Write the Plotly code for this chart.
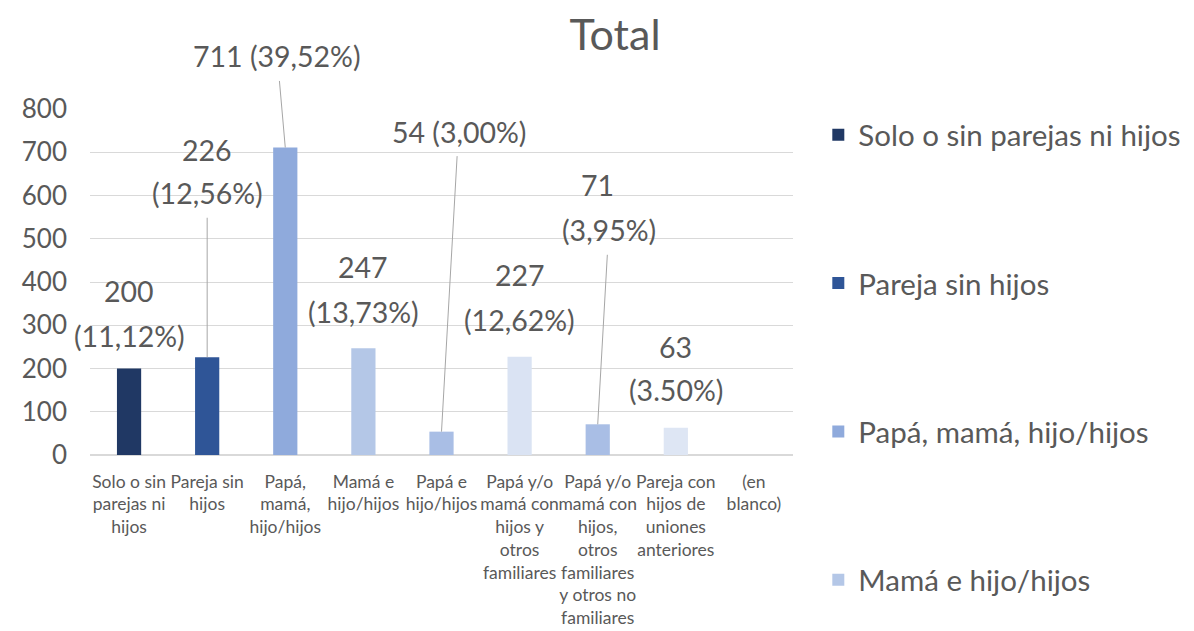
import plotly.graph_objects as go

categories = [
    "Solo o sin parejas ni hijos",
    "Pareja sin hijos",
    "Papá, mamá, hijo/hijos",
    "Mamá e hijo/hijos",
    "Papá e hijo/hijos",
    "Papá y/o mamá con hijos y otros familiares",
    "Papá y/o mamá con hijos, otros familiares y otros no familiares",
    "Pareja con hijos de uniones anteriores",
    "(en blanco)",
]
tick_labels = [
    "Solo o sin<br>parejas ni<br>hijos",
    "Pareja sin<br>hijos",
    "Papá,<br>mamá,<br>hijo/hijos",
    "Mamá e<br>hijo/hijos",
    "Papá e<br>hijo/hijos",
    "Papá y/o<br>mamá con<br>hijos y<br>otros<br>familiares",
    "Papá y/o<br>mamá con<br>hijos,<br>otros<br>familiares<br>y otros no<br>familiares",
    "Pareja con<br>hijos de<br>uniones<br>anteriores",
    "(en<br>blanco)",
]
values = [200, 226, 711, 247, 54, 227, 71, 63, None]
value_labels = ["200", "226", "711", "247", "54", "227", "71", "63", None]
pct_labels = ["(11,12%)", "(12,56%)", "(39,52%)", "(13,73%)", "(3,00%)",
              "(12,62%)", "(3,95%)", "(3.50%)", None]
y_ticks = [0, 100, 200, 300, 400, 500, 600, 700, 800]

# styling (not data)
colors = ["#203864", "#2F5597", "#8FAADC", "#B4C7E7", "#A9BEE5",
          "#DAE3F3", "#A9BEE5", "#DEE6F4", "#DEE6F4"]
legend_count = 4
label_layout = [
    ("two", 78, 33),
    ("lead2", 207, (0, -164)),
    ("lead1", None, (-8, -91)),
    ("two", 81, 36),
    ("lead1", None, (17, -300)),
    ("two", 82, 37),
    ("lead2", 239, (11, -194)),
    ("two", 81, 38),
    None,
]

FONT = "Lato, 'Open Sans', sans-serif"
TXT = "#595959"
W, H = 1186, 623  # page has an 8px body margin

fig = go.Figure()
for i, (cat, val) in enumerate(zip(categories, values)):
    fig.add_trace(go.Bar(
        x=[cat], y=[val], name=cat, width=0.31,
        marker=dict(color=colors[i], line=dict(width=0)),
        showlegend=i < legend_count, legendgroup=f"g{i}",
    ))

annotations = []
for i, lay in enumerate(label_layout):
    if lay is None or values[i] is None:
        continue
    mode = lay[0]
    cat, val = categories[i], values[i]
    base = dict(x=cat, y=val, xref="x", yref="y",
                font=dict(family=FONT, size=28.5, color=TXT))
    if mode == "two":
        annotations.append(dict(base, text=value_labels[i], showarrow=False, yshift=lay[1]))
        annotations.append(dict(base, text=pct_labels[i], showarrow=False, yshift=lay[2]))
    elif mode == "lead2":
        annotations.append(dict(base, text=value_labels[i], showarrow=False, yshift=lay[1]))
        ax, ay = lay[2]
        annotations.append(dict(base, text=pct_labels[i], showarrow=True, ax=ax, ay=ay,
                                arrowhead=0, arrowwidth=1, arrowcolor="#A6A6A6",
                                startstandoff=6))
    else:
        ax, ay = lay[2]
        annotations.append(dict(base, text=f"{value_labels[i]} {pct_labels[i]}",
                                showarrow=True, ax=ax, ay=ay,
                                arrowhead=0, arrowwidth=1, arrowcolor="#A6A6A6",
                                startstandoff=6))

fig.update_layout(
    width=W, height=H,
    margin=dict(l=82, r=401, t=101, b=176, autoexpand=False),
    paper_bgcolor="white", plot_bgcolor="white",
    barmode="overlay",
    title=dict(text="Total", x=607 / W, xanchor="center", xref="container",
               y=1 - 27 / H, yanchor="middle", yref="container",
               font=dict(family=FONT, size=43, color=TXT)),
    font=dict(family=FONT, color=TXT),
    legend=dict(x=1.036, xanchor="left", y=1.0, yanchor="top",
                font=dict(family=FONT, size=29.5, color=TXT),
                tracegroupgap=107, bgcolor="rgba(0,0,0,0)",
                maxheight=610),
    annotations=annotations,
)
fig.update_xaxes(
    categoryorder="array", categoryarray=categories,
    tickvals=categories, ticktext=tick_labels,
    range=[-0.5, len(categories) - 0.5],
    tickfont=dict(family=FONT, size=17.5, color=TXT),
    tickangle=0,
    showgrid=False, ticks="", ticklabelstandoff=14,
    showline=False,
)
fig.update_yaxes(
    range=[0, 800], tickvals=y_ticks,
    tickfont=dict(family=FONT, size=26, color=TXT),
    showgrid=True, gridcolor="#D9D9D9", gridwidth=1,
    zeroline=True, zerolinecolor="#D9D9D9", zerolinewidth=1.5,
    ticks="", ticklabelstandoff=22,
)
fig.write_html("out.html")
